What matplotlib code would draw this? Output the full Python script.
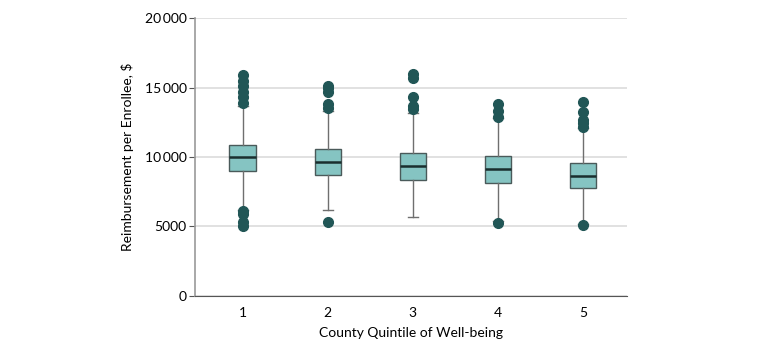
import matplotlib
matplotlib.use("Agg")
import matplotlib.pyplot as plt
from matplotlib.ticker import FuncFormatter

plt.rcParams['font.family'] = ['Lato', 'DejaVu Sans']

# quintili e statistiche
quintiles = [1, 2, 3, 4, 5]
q1 = [9000, 8700, 8350, 8150, 7750]
median = [10000, 9680, 9330, 9110, 8620]
q3 = [10900, 10580, 10300, 10050, 9600]
whis_lo = [6200, 6200, 5700, 5400, 5200]
whis_hi = [13700, 13300, 13150, 12800, 12100]
outliers = [
    [15900, 15500, 15100, 14700, 14300, 13900, 6100, 5900, 5300, 5000],
    [15150, 15000, 14700, 13800, 13550, 5300],
    [15950, 15700, 14300, 13650, 13450],
    [13850, 13300, 12900, 5250],
    [13980, 13260, 12650, 12420, 12200, 5120],
]

stats = []
for i in range(len(quintiles)):
    stats.append(dict(q1=q1[i], med=median[i], q3=q3[i],
                      whislo=whis_lo[i], whishi=whis_hi[i],
                      fliers=outliers[i], label=str(quintiles[i])))

fig = plt.figure(figsize=(7.8, 3.51), dpi=100)
ax = fig.add_axes([0.25, 0.157, 0.554, 0.791])

ax.bxp(stats, positions=quintiles, widths=0.31, patch_artist=True,
       boxprops=dict(facecolor='#85c4c2', edgecolor='#4a5a5a', linewidth=1.0),
       medianprops=dict(color='#1a2e2e', linewidth=1.8),
       whiskerprops=dict(color='#6f6f6f', linewidth=1.0),
       capprops=dict(color='#6f6f6f', linewidth=1.0),
       capwidths=0.12,
       flierprops=dict(marker='o', markerfacecolor='#215656',
                       markeredgecolor='#215656', markersize=7))

ax.set_xlim(0.44, 5.52)
ax.set_ylim(0, 20000)
ax.set_yticks([0, 5000, 10000, 15000, 20000])
ax.yaxis.set_major_formatter(FuncFormatter(
    lambda v, p: f"{int(v):,}".replace(",", "\u2009") if v >= 10000 else f"{int(v)}"))
ax.grid(axis='y', color='#dcdcdc', linewidth=1.2)
ax.set_axisbelow(True)

for s in ['top', 'right']:
    ax.spines[s].set_visible(False)
ax.spines['left'].set_color('#9a9a9a')
ax.spines['left'].set_linewidth(1.2)
ax.spines['bottom'].set_color('#555555')
ax.tick_params(axis='y', length=4, color='#555555', labelsize=10, pad=2)
ax.tick_params(axis='x', length=0, labelsize=10, pad=8)

ax.set_xlabel('County Quintile of Well-being', fontsize=10, labelpad=6)
ax.set_ylabel('Reimbursement per Enrollee, $', fontsize=10, labelpad=8)

fig.savefig('out.png', dpi=100)
